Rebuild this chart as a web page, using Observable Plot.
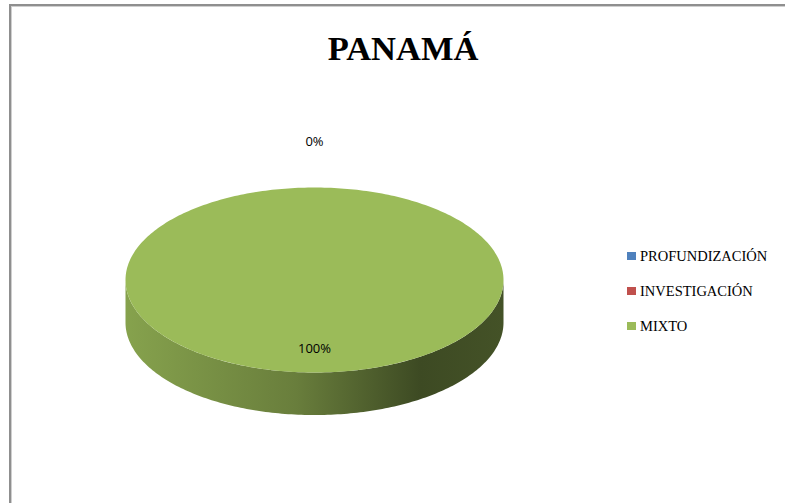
<!DOCTYPE html>
<html>
<head>
<meta charset="utf-8">
<script src="https://cdn.jsdelivr.net/npm/d3@7"></script>
<script src="https://cdn.jsdelivr.net/npm/@observablehq/plot@0.6"></script>
<style>
  html, body { margin: 0; padding: 0; background: #fff; }
  #page { position: relative; width: 785px; height: 503px; overflow: hidden; background: #fff; }
  #frame { position: absolute; left: 9px; top: 4px; width: 820px; height: 540px;
           border-left: 2px solid #8f8f8f; border-top: 2px solid #8f8f8f;
           box-shadow: inset 1px 1px 0 #cfcfcf; }
  #chart { position: absolute; left: 0; top: 0; }
  #title { position: absolute; left: 253px; top: 31px; width: 300px; text-align: center;
           font-family: "Liberation Serif", serif; font-weight: bold; font-size: 34.5px; line-height: 35px; color: #000; }
  #legend { position: absolute; left: 627px; top: 247px; font-family: "Liberation Serif", serif; font-size: 14.5px; color: #000; }
  .row { display: flex; align-items: center; height: 18px; margin-bottom: 17px; white-space: nowrap; }
  .sw { width: 9px; height: 8px; margin-right: 4px; flex: none; }
</style>
</head>
<body>
<div id="page">
  <div id="frame"></div>
  <div id="chart"></div>
  <div id="title"></div>
  <div id="legend"></div>
</div>
<script>
// ---- data ----
const title = "PANAMÁ";
const categories = ["PROFUNDIZACIÓN", "INVESTIGACIÓN", "MIXTO"];
const values = [0, 0, 100];
const colors = ["#4f81bd", "#c0504d", "#9bbb59"];

// ---- geometry (unit ellipse, depth in y units) ----
const depth = 0.46;
const pie = d3.pie().sort(null).value(d => d.value);
const slices = pie(categories.map((c, i) => ({category: c, value: values[i], color: colors[i], id: "g" + i})));
const total = d3.sum(values);
const ex = a => Math.sin(a);
const ey = a => -Math.cos(a);

function arcPts(a0, a1) {
  const n = Math.max(2, Math.ceil(Math.abs(a1 - a0) / (Math.PI / 180)));
  return d3.range(n + 1).map(k => a0 + (a1 - a0) * k / n);
}

const topPts = [];
const sidePts = [];
slices.forEach((s, si) => {
  const key = s.data.category;
  topPts.push({key, x: 0, y: 0, fill: s.data.color});
  arcPts(s.startAngle, s.endAngle).forEach(a => topPts.push({key, x: ex(a), y: ey(a), fill: s.data.color}));
  const lo = Math.max(s.startAngle, Math.PI / 2), hi = Math.min(s.endAngle, 3 * Math.PI / 2);
  if (hi > lo) {
    const as = arcPts(lo, hi);
    const f = `url(#${s.data.id})`;
    as.forEach(a => sidePts.push({key, x: ex(a), y: ey(a), fill: f}));
    as.slice().reverse().forEach(a => sidePts.push({key, x: ex(a), y: ey(a) + depth, fill: f}));
  }
});

let labels = slices.map(s => {
  const mid = (s.startAngle + s.endAngle) / 2;
  const r = s.data.value > 0 ? 0.74 : 1.49;
  return {x: ex(mid) * r, y: ey(mid) * r, text: Math.round(100 * s.data.value / total) + "%"};
});
labels = labels.filter((d, i, arr) => arr.findIndex(e => e.text === d.text && Math.abs(e.x - d.x) < 1e-6 && Math.abs(e.y - d.y) < 1e-6) === i);

const chart = Plot.plot({
  width: 785,
  height: 503,
  margin: 0,
  x: {domain: [-1, 1], range: [125, 503], axis: null},
  y: {domain: [-1, 1], range: [187, 372], axis: null},
  marks: [
    Plot.line(sidePts, {x: "x", y: "y", z: "key", fill: "fill", stroke: "none", curve: "linear"}),
    Plot.line(topPts, {x: "x", y: "y", z: "key", fill: "fill", stroke: "none", curve: "linear"}),
    Plot.text(labels, {x: "x", y: "y", text: "text", fontFamily: "Open Sans", fontSize: 13, fill: "#000", textAnchor: "middle", lineAnchor: "middle"})
  ]
});

// gradient defs for the pie side
const ns = "http://www.w3.org/2000/svg";
const defs = document.createElementNS(ns, "defs");
slices.forEach(s => {
  const g = document.createElementNS(ns, "linearGradient");
  g.setAttribute("id", s.data.id);
  g.setAttribute("x1", "0"); g.setAttribute("x2", "1"); g.setAttribute("y1", "0"); g.setAttribute("y2", "0");
  [[0, 0.4], [0.45, 1.1], [0.78, 2.6], [1, 2.3]].forEach(([o, k]) => {
    const st = document.createElementNS(ns, "stop");
    st.setAttribute("offset", o);
    st.setAttribute("stop-color", d3.color(s.data.color).darker(k).formatHex());
    g.appendChild(st);
  });
  defs.appendChild(g);
});
chart.insertBefore(defs, chart.firstChild);
chart.style.background = "transparent";
document.getElementById("chart").appendChild(chart);

document.getElementById("title").textContent = title;
const legend = document.getElementById("legend");
categories.forEach((c, i) => {
  const row = document.createElement("div");
  row.className = "row";
  const sw = document.createElement("span");
  sw.className = "sw";
  sw.style.background = colors[i];
  const t = document.createElement("span");
  t.textContent = c;
  row.appendChild(sw); row.appendChild(t);
  legend.appendChild(row);
});
</script>
</body>
</html>
